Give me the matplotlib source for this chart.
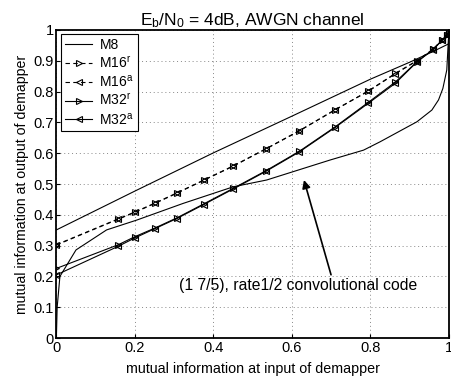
import matplotlib
matplotlib.use('Agg')
import matplotlib.pyplot as plt
import numpy as np

plt.rcParams['font.family'] = ['Liberation Sans', 'DejaVu Sans']
plt.rcParams['mathtext.fontset'] = 'custom'
plt.rcParams['mathtext.rm'] = 'Liberation Sans'
plt.rcParams['mathtext.it'] = 'Liberation Sans'

# a priori input MI values (marker positions)
x_mi = [0, 0.158, 0.2, 0.251, 0.307, 0.375, 0.451, 0.534, 0.619, 0.71,
        0.795, 0.864, 0.919, 0.96, 0.983, 0.995, 1.0]

m16r = [0.302, 0.386, 0.408, 0.437, 0.47, 0.512, 0.558, 0.614, 0.673, 0.740,
        0.802, 0.859, 0.900, 0.937, 0.968, 0.984, 0.99]
m16a = [0.303, 0.387, 0.409, 0.438, 0.471, 0.512, 0.559, 0.614, 0.672, 0.741,
        0.801, 0.858, 0.900, 0.937, 0.967, 0.983, 0.99]
m32r = [0.226, 0.303, 0.329, 0.357, 0.390, 0.435, 0.486, 0.543, 0.606, 0.685,
        0.765, 0.831, 0.897, 0.937, 0.967, 0.983, 0.99]
m32a = [0.205, 0.298, 0.325, 0.355, 0.388, 0.433, 0.484, 0.541, 0.604, 0.683,
        0.762, 0.827, 0.896, 0.936, 0.966, 0.982, 0.99]

m8_x = [0, 0.2, 0.4, 0.6, 0.8, 0.9, 0.96, 1.0]
m8_y = [0.351, 0.477, 0.601, 0.72, 0.84, 0.895, 0.93, 0.955]

# (1 7/5) convolutional code, axes swapped
code_x = [0, 0.002, 0.009, 0.05, 0.128, 0.205, 0.323, 0.451, 0.536, 0.698,
          0.783, 0.825, 0.919, 0.957, 0.974, 0.985, 0.995, 1.0]
code_y = [0, 0.10, 0.20, 0.286, 0.351, 0.383, 0.437, 0.491, 0.513, 0.578,
          0.61, 0.637, 0.702, 0.74, 0.773, 0.81, 0.87, 0.99]

fig = plt.figure(figsize=(4.51, 3.79), dpi=100)
ax = fig.add_axes([0.125, 0.108, 0.87, 0.813])

lw = 0.8
ms = 5
ax.plot(m8_x, m8_y, 'k-', lw=lw, label='M8')
ax.plot(code_x, code_y, 'k-', lw=lw)
ax.plot(x_mi, m16r, 'k--', lw=lw, marker='>', ms=ms, mfc='none', mew=0.8,
        label=r'M16$^{\mathrm{r}}$', dashes=(4, 3))
ax.plot(x_mi, m16a, 'k--', lw=lw, marker='<', ms=ms, mfc='none', mew=0.8,
        label=r'M16$^{\mathrm{a}}$', dashes=(4, 3))
ax.plot(x_mi, m32r, 'k-', lw=lw, marker='>', ms=ms, mfc='none', mew=0.8,
        label=r'M32$^{\mathrm{r}}$')
ax.plot(x_mi, m32a, 'k-', lw=lw, marker='<', ms=ms, mfc='none', mew=0.8,
        label=r'M32$^{\mathrm{a}}$')

ax.annotate('(1 7/5), rate1/2 convolutional code', xy=(0.631, 0.513),
            xytext=(0.617, 0.172), ha='center', va='center', fontsize=11.3,
            arrowprops=dict(arrowstyle='-|>', color='k', lw=1.2,
                            shrinkA=0, shrinkB=0, mutation_scale=12,
                            relpos=(0.64, 1.0)))

ax.set_xlim(0, 1)
ax.set_ylim(0, 1)
ax.set_xticks(np.arange(0, 1.01, 0.2))
ax.set_xticklabels(['0', '0.2', '0.4', '0.6', '0.8', '1'])
ax.set_yticks(np.arange(0, 1.01, 0.1))
ax.set_yticklabels(['0', '0.1', '0.2', '0.3', '0.4', '0.5', '0.6', '0.7',
                    '0.8', '0.9', '1'])
ax.tick_params(direction='in', length=3, labelsize=10.5, width=0.8, pad=2)
ax.grid(True, linestyle=(0, (1, 3)), color='#888888', lw=0.7)
for s in ax.spines.values():
    s.set_linewidth(1.3)

ax.set_xlabel('mutual information at input of demapper', fontsize=10.3, labelpad=5)
ax.set_ylabel('mutual information at output of demapper', fontsize=10.2, labelpad=3)
ax.set_title(r'E$_\mathrm{b}$/N$_\mathrm{0}$ = 4dB, AWGN channel', fontsize=12.5, pad=3)

leg = ax.legend(loc='upper left', fontsize=10, handlelength=2.0,
                fancybox=False, framealpha=1, edgecolor='k',
                borderaxespad=0.3, labelspacing=0.2, handletextpad=0.5,
                borderpad=0.3)
leg.get_frame().set_linewidth(0.8)

fig.savefig('out.png', dpi=100)
